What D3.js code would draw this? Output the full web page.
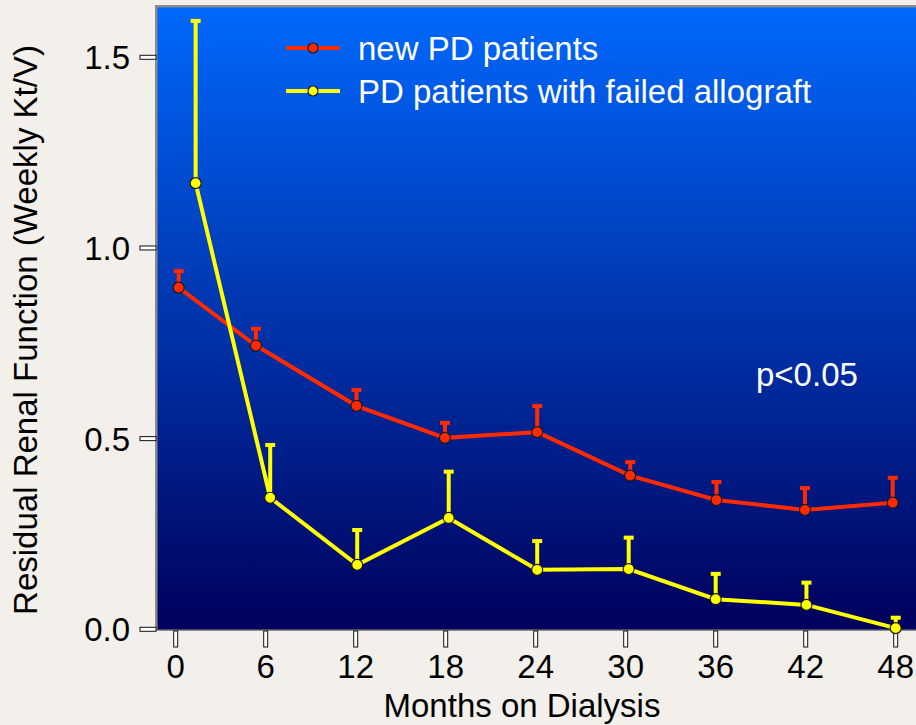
<!DOCTYPE html>
<html>
<head>
<meta charset="utf-8">
<script src="https://cdn.jsdelivr.net/npm/d3@7"></script>
<style>
  body { margin: 0; background: #f3f0ec; }
  svg { display: block; font-family: "Liberation Sans", Arial, sans-serif; }
</style>
</head>
<body>
<svg id="chart" width="916" height="725"></svg>
<script>
// tick labels
const xTicks = [0, 6, 12, 18, 24, 30, 36, 42, 48];
const yTicks = [0, 0.5, 1.0, 1.5];

// new PD patients
const newMonths = [0.2, 5.35, 12.05, 17.95, 24.1, 30.3, 36.05, 41.95, 47.8];
const newMean   = [0.896, 0.744, 0.586, 0.502, 0.517, 0.403, 0.339, 0.313, 0.332];
const newUpper  = [0.942, 0.791, 0.630, 0.544, 0.588, 0.441, 0.389, 0.373, 0.400];

// PD patients with failed allograft
const failMonths = [1.33, 6.3, 12.1, 18.2, 24.1, 30.2, 36.0, 42.05, 48.0];
const failMean   = [1.170, 0.345, 0.169, 0.292, 0.156, 0.158, 0.079, 0.064, 0.003];
const failUpper  = [1.598, 0.486, 0.263, 0.416, 0.234, 0.243, 0.148, 0.125, 0.033];

const seriesNames = ["new PD patients", "PD patients with failed allograft"];
const seriesColors = ["#ff2a00", "#ffff00"];

const fs = 33;
const svg = d3.select("#chart");

const x = d3.scaleLinear().domain([0, 48]).range([175.7, 895.7]);
const y = d3.scaleLinear().domain([0, 1.5]).range([629.3, 57.3]);

// background gradient of the plot panel
const defs = svg.append("defs");
const grad = defs.append("linearGradient")
    .attr("id", "bg").attr("x1", 0).attr("y1", 0).attr("x2", 0).attr("y2", 1);
grad.append("stop").attr("offset", "0%").attr("stop-color", "#0068fc");
grad.append("stop").attr("offset", "100%").attr("stop-color", "#00005c");

svg.append("rect")
    .attr("x", 155).attr("y", 5)
    .attr("width", 761).attr("height", 626)
    .attr("fill", "#8a8a8a");
svg.append("rect")
    .attr("x", 157.5).attr("y", 7.5)
    .attr("width", 760).attr("height", 622)
    .attr("fill", "url(#bg)");

// ticks drawn as little hollow bars
svg.selectAll(".ytick")
    .data(yTicks)
    .enter().append("rect")
    .attr("x", 140).attr("y", d => y(d) - 2)
    .attr("width", 16).attr("height", 4)
    .attr("fill", "#fff").attr("stroke", "#111").attr("stroke-width", 1);

svg.selectAll(".ylab")
    .data(yTicks)
    .enter().append("text")
    .attr("x", 130).attr("y", d => y(d) + 12)
    .attr("text-anchor", "end")
    .attr("font-size", fs)
    .attr("fill", "#000")
    .text(d => d3.format(".1f")(d));

svg.selectAll(".xtick")
    .data(xTicks)
    .enter().append("rect")
    .attr("x", d => x(d) - 2).attr("y", 631)
    .attr("width", 4).attr("height", 16)
    .attr("fill", "#fff").attr("stroke", "#111").attr("stroke-width", 1);

svg.selectAll(".xlab")
    .data(xTicks)
    .enter().append("text")
    .attr("x", d => x(d)).attr("y", 678)
    .attr("text-anchor", "middle")
    .attr("font-size", fs)
    .attr("fill", "#000")
    .text(d => d);

svg.append("text")
    .attr("x", 522).attr("y", 717)
    .attr("text-anchor", "middle")
    .attr("font-size", fs)
    .text("Months on Dialysis");

svg.append("text")
    .attr("transform", "translate(37,330) rotate(-90)")
    .attr("text-anchor", "middle")
    .attr("font-size", fs)
    .text("Residual Renal Function (Weekly Kt/V)");

function drawSeries(months, mean, upper, color) {
    const pts = months.map((m, i) => ({ m: m, v: mean[i], u: upper[i] }));
    const g = svg.append("g");

    // error bars (upper only)
    g.selectAll("line.err")
        .data(pts)
        .enter().append("line")
        .attr("x1", d => x(d.m)).attr("x2", d => x(d.m))
        .attr("y1", d => y(d.v)).attr("y2", d => y(d.u))
        .attr("stroke", color).attr("stroke-width", 4);
    g.selectAll("rect.cap")
        .data(pts)
        .enter().append("rect")
        .attr("x", d => x(d.m) - 5).attr("y", d => y(d.u) - 1)
        .attr("width", 10).attr("height", 4)
        .attr("fill", color);

    const line = d3.line().x(d => x(d.m)).y(d => y(d.v));
    g.append("path")
        .datum(pts)
        .attr("d", line)
        .attr("fill", "none")
        .attr("stroke", color)
        .attr("stroke-width", 4);

    g.selectAll("circle")
        .data(pts)
        .enter().append("circle")
        .attr("cx", d => x(d.m)).attr("cy", d => y(d.v))
        .attr("r", 5.5)
        .attr("fill", color)
        .attr("stroke", "#1a1a1a").attr("stroke-width", 1.2);
}

drawSeries(newMonths, newMean, newUpper, seriesColors[0]);
drawSeries(failMonths, failMean, failUpper, seriesColors[1]);

// legend
const legend = svg.append("g");
seriesNames.forEach((name, i) => {
    const ly = 48 + i * 43;
    legend.append("line")
        .attr("x1", 286).attr("x2", 340).attr("y1", ly).attr("y2", ly)
        .attr("stroke", seriesColors[i]).attr("stroke-width", 4);
    legend.append("circle")
        .attr("cx", 313).attr("cy", ly).attr("r", 5)
        .attr("fill", seriesColors[i])
        .attr("stroke", "#1a1a1a").attr("stroke-width", 1.2);
    legend.append("text")
        .attr("x", 358).attr("y", ly + 12)
        .attr("font-size", fs)
        .attr("fill", "#fff")
        .text(name);
});

svg.append("text")
    .attr("x", 756).attr("y", 386)
    .attr("font-size", fs)
    .attr("fill", "#fff")
    .text("p<0.05");
</script>
</body>
</html>
